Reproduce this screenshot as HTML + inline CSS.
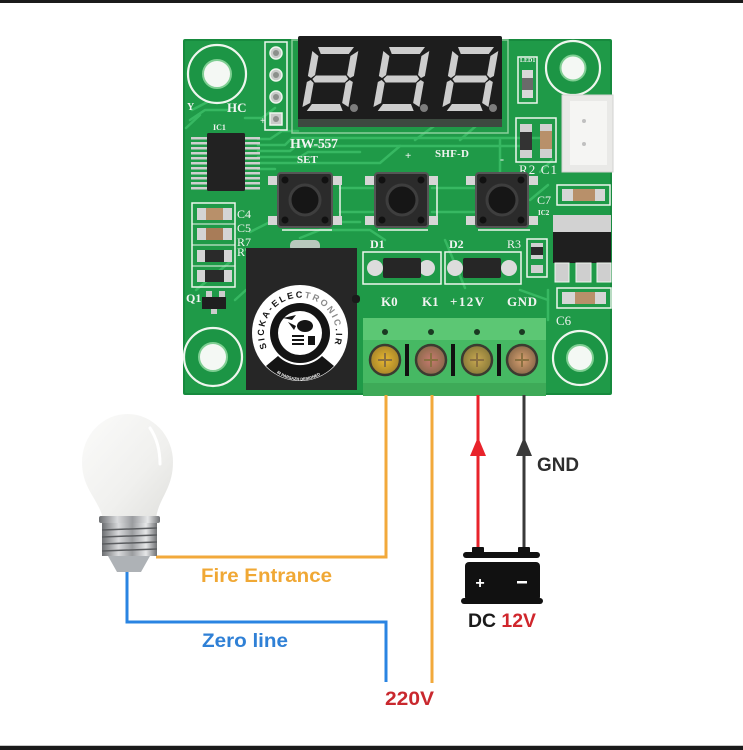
<!DOCTYPE html>
<html><head><meta charset="utf-8">
<style>
html,body{margin:0;padding:0;background:#fff;}
svg{display:block;}
</style></head>
<body>
<svg width="743" height="750" viewBox="0 0 743 750" xmlns="http://www.w3.org/2000/svg">
<defs>
  <linearGradient id="glass" x1="0" y1="0" x2="1" y2="1">
    <stop offset="0" stop-color="#fbfbfa"/>
    <stop offset="0.6" stop-color="#f0f0ee"/>
    <stop offset="1" stop-color="#e0e0dd"/>
  </linearGradient>
  <linearGradient id="metal" x1="0" y1="0" x2="1" y2="0">
    <stop offset="0" stop-color="#6d6f72"/>
    <stop offset="0.3" stop-color="#d9dadc"/>
    <stop offset="0.55" stop-color="#9a9c9f"/>
    <stop offset="0.8" stop-color="#e6e7e8"/>
    <stop offset="1" stop-color="#707275"/>
  </linearGradient>
  <radialGradient id="screw1"><stop offset="0" stop-color="#e8b830"/><stop offset="1" stop-color="#a8862a"/></radialGradient>
  <radialGradient id="screw2"><stop offset="0" stop-color="#c87a70"/><stop offset="1" stop-color="#8a6a4a"/></radialGradient>
  <radialGradient id="screw3"><stop offset="0" stop-color="#c8a850"/><stop offset="1" stop-color="#8a7a3a"/></radialGradient>
  <radialGradient id="screw4"><stop offset="0" stop-color="#d8a070"/><stop offset="1" stop-color="#8a6a4a"/></radialGradient>
  <path id="logoArc" d="M267,348 A36,36 0 1 1 333,348"/>
  <path id="logoArcB" d="M272,369 A40,40 0 0 0 328,369"/>
</defs>

<!-- frame bars -->
<rect x="0" y="0" width="743" height="3" fill="#1b1b1b"/>
<rect x="0" y="745" width="743" height="1" fill="#c8c8c8"/>
<rect x="0" y="746" width="743" height="4" fill="#1b1b1b"/>

<!-- ================= PCB ================= -->
<rect x="183" y="39" width="429" height="356" rx="2" fill="#1f9a48"/>
<rect x="184" y="40" width="427" height="354" rx="2" fill="none" stroke="#178a3e" stroke-width="2"/>

<!-- traces -->
<g fill="none" stroke="#37b862" stroke-width="2.5" stroke-linecap="round" stroke-linejoin="round">
  <path d="M258,139 H270 L282,131 H298"/>
  <path d="M258,145 H285 L292,138 H540"/>
  <path d="M258,151 H290 L296,146 H520"/>
  <path d="M258,157 H300 L308,152 H360"/>
  <path d="M258,163 H380 L400,146"/>
  <path d="M258,169 H275"/>
  <path d="M190,120 L205,110 H228"/>
  <path d="M186,128 L200,115"/>
  <path d="M192,110 L215,98"/>
  <path d="M245,118 H262 L275,108"/>
  <path d="M415,140 L445,118"/>
  <path d="M460,140 L485,118"/>
  <path d="M500,140 V175"/>
  <path d="M340,188 H375"/>
  <path d="M432,188 H476"/>
  <path d="M340,212 H375"/>
  <path d="M432,212 H476"/>
  <path d="M250,232 L270,222 H360"/>
  <path d="M300,238 L320,230 H370 L385,240"/>
  <path d="M530,200 L548,185"/>
  <path d="M540,172 L552,160"/>
  <path d="M196,290 L230,262"/>
  <path d="M235,300 L246,290"/>
  <path d="M445,240 L465,288"/>
  <path d="M520,290 L548,300"/>
  <path d="M548,320 V290"/>
</g>

<!-- mounting holes -->
<g stroke="#eef6ee" stroke-width="2.2">
  <circle cx="217" cy="74" r="29" fill="#1c9545"/>
  <circle cx="573" cy="68" r="27" fill="#1c9545"/>
  <circle cx="213" cy="357" r="29" fill="#1c9545"/>
  <circle cx="580" cy="358" r="27" fill="#1c9545"/>
</g>
<g fill="#f4f8f4" stroke="#7fcf93" stroke-width="2">
  <circle cx="217" cy="74" r="14"/>
  <circle cx="573" cy="68" r="12.5"/>
  <circle cx="213" cy="357" r="14"/>
  <circle cx="580" cy="358" r="13"/>
</g>

<!-- silkscreen -->
<g font-family="'Liberation Serif', serif" font-weight="bold" fill="#f2f4f2">
  <text x="227" y="112" font-size="13">HC</text>
  <text x="213" y="130" font-size="8">IC1</text>
  <text x="260" y="124" font-size="10">+</text>
  <text x="290" y="148" font-size="14" textLength="48">HW-557</text>
  <text x="297" y="163" font-size="11">SET</text>
  <text x="405" y="159" font-size="11">+</text>
  <text x="435" y="157" font-size="11" textLength="34">SHF-D</text>
  <text x="500" y="163" font-size="12">-</text>
  <text x="519" y="174" font-size="13" font-weight="normal" textLength="38">R2 C1</text>
  <text x="537" y="204" font-size="12" font-weight="normal">C7</text>
  <text x="538" y="215" font-size="7">IC2</text>
  <text x="237" y="218" font-size="12" font-weight="normal">C4</text>
  <text x="237" y="232" font-size="12" font-weight="normal">C5</text>
  <text x="237" y="246" font-size="12" font-weight="normal">R7</text>
  <text x="237" y="256" font-size="12" font-weight="normal">R'</text>
  <text x="186" y="302" font-size="12">Q1</text>
  <text x="370" y="248" font-size="12">D1</text>
  <text x="449" y="248" font-size="12">D2</text>
  <text x="507" y="248" font-size="12" font-weight="normal">R3</text>
  <text x="381" y="306" font-size="13">K0</text>
  <text x="422" y="306" font-size="13">K1</text>
  <text x="450" y="306" font-size="13" textLength="34">+12V</text>
  <text x="507" y="306" font-size="13" textLength="30">GND</text>
  <text x="556" y="325" font-size="13" font-weight="normal">C6</text>
  <text x="520" y="62" font-size="6">LED1</text>
  <text x="187" y="110" font-size="10">Y</text>
</g>

<!-- header pins -->
<rect x="265" y="42" width="22" height="88" fill="none" stroke="#eef6ee" stroke-width="1.5"/>
<g fill="#c9cbc9" stroke="#eef6ee" stroke-width="1.5">
  <circle cx="276" cy="53" r="6"/>
  <circle cx="276" cy="75" r="6"/>
  <circle cx="276" cy="97" r="6"/>
  <rect x="270" y="113" width="12" height="12"/>
</g>
<g fill="#8c908c">
  <circle cx="276" cy="53" r="3"/><circle cx="276" cy="75" r="3"/><circle cx="276" cy="97" r="3"/><circle cx="276" cy="119" r="3"/>
</g>

<!-- display -->
<rect x="292" y="40" width="216" height="93" fill="none" stroke="#8ccf9c" stroke-width="1.5"/>
<rect x="298" y="36" width="204" height="91" rx="2" fill="#1d1d1d"/>
<rect x="298" y="119" width="204" height="8" fill="#3d4a40"/>
<g fill="#cdcdcd">
  <g transform="translate(313,47) skewX(-10)">
    <polygon points="5,0 41,0 37,7 9,7"/><polygon points="9,57 37,57 41,64 5,64"/>
    <polygon points="8,28.5 38,28.5 41,32 38,35.5 8,35.5 5,32"/>
    <polygon points="0,4 7,9 7,28 3.5,31 0,29"/><polygon points="46,4 46,29 42.5,31 39,28 39,9"/>
    <polygon points="0,35 3.5,33 7,36 7,56 0,60"/><polygon points="46,35 46,60 39,56 39,36 42.5,33"/>
  </g>
  <g transform="translate(384,47) skewX(-10)">
    <polygon points="5,0 41,0 37,7 9,7"/><polygon points="9,57 37,57 41,64 5,64"/>
    <polygon points="8,28.5 38,28.5 41,32 38,35.5 8,35.5 5,32"/>
    <polygon points="0,4 7,9 7,28 3.5,31 0,29"/><polygon points="46,4 46,29 42.5,31 39,28 39,9"/>
    <polygon points="0,35 3.5,33 7,36 7,56 0,60"/><polygon points="46,35 46,60 39,56 39,36 42.5,33"/>
  </g>
  <g transform="translate(453,47) skewX(-10)">
    <polygon points="5,0 41,0 37,7 9,7"/><polygon points="9,57 37,57 41,64 5,64"/>
    <polygon points="8,28.5 38,28.5 41,32 38,35.5 8,35.5 5,32"/>
    <polygon points="0,4 7,9 7,28 3.5,31 0,29"/><polygon points="46,4 46,29 42.5,31 39,28 39,9"/>
    <polygon points="0,35 3.5,33 7,36 7,56 0,60"/><polygon points="46,35 46,60 39,56 39,36 42.5,33"/>
  </g>
</g>
<g fill="#7d7d7d">
  <circle cx="354" cy="108" r="4"/><circle cx="424" cy="108" r="4"/><circle cx="493" cy="108" r="4"/>
</g>

<!-- LED1 -->
<rect x="518" y="57" width="19" height="46" fill="none" stroke="#eef6ee" stroke-width="1.5"/>
<rect x="522" y="70" width="11" height="28" fill="#d8d8d8"/>
<rect x="522" y="78" width="11" height="12" fill="#6a6a6a"/>

<!-- R2 C1 -->
<rect x="516" y="118" width="40" height="44" fill="none" stroke="#eef6ee" stroke-width="1.5"/>
<rect x="520" y="124" width="12" height="34" fill="#d0d0d0"/>
<rect x="520" y="132" width="12" height="18" fill="#333"/>
<rect x="540" y="124" width="12" height="34" fill="#d0d0d0"/>
<rect x="540" y="131" width="12" height="18" fill="#b8906a"/>

<!-- connector -->
<rect x="562" y="95" width="51" height="77" fill="#e9e9e7" stroke="#d2d2d0" stroke-width="1"/>
<rect x="570" y="101" width="37" height="64" fill="#f5f5f3"/>
<circle cx="584" cy="121" r="2" fill="#c0c0c0"/>
<circle cx="584" cy="144" r="2" fill="#c0c0c0"/>

<!-- IC1 -->
<g fill="#cfcfcf">
  <rect x="191" y="137" width="16" height="2.5"/><rect x="191" y="142" width="16" height="2.5"/><rect x="191" y="147" width="16" height="2.5"/><rect x="191" y="152" width="16" height="2.5"/><rect x="191" y="157" width="16" height="2.5"/><rect x="191" y="162" width="16" height="2.5"/><rect x="191" y="167" width="16" height="2.5"/><rect x="191" y="172" width="16" height="2.5"/><rect x="191" y="177" width="16" height="2.5"/><rect x="191" y="182" width="16" height="2.5"/><rect x="191" y="187" width="16" height="2.5"/>
  <rect x="245" y="137" width="15" height="2.5"/><rect x="245" y="142" width="15" height="2.5"/><rect x="245" y="147" width="15" height="2.5"/><rect x="245" y="152" width="15" height="2.5"/><rect x="245" y="157" width="15" height="2.5"/><rect x="245" y="162" width="15" height="2.5"/><rect x="245" y="167" width="15" height="2.5"/><rect x="245" y="172" width="15" height="2.5"/><rect x="245" y="177" width="15" height="2.5"/><rect x="245" y="182" width="15" height="2.5"/><rect x="245" y="187" width="15" height="2.5"/>
</g>
<rect x="207" y="133" width="38" height="58" rx="1.5" fill="#222"/>

<!-- left passives -->
<rect x="192" y="203" width="43" height="84" fill="none" stroke="#eef6ee" stroke-width="1.5"/>
<g>
  <rect x="197" y="208" width="35" height="12" fill="#d4d4d4"/><rect x="206" y="208" width="17" height="12" fill="#b8906a"/>
  <rect x="197" y="228" width="35" height="12" fill="#d4d4d4"/><rect x="206" y="228" width="17" height="12" fill="#a87c58"/>
  <rect x="197" y="250" width="35" height="12" fill="#d4d4d4"/><rect x="205" y="250" width="19" height="12" fill="#2a2a2a"/>
  <rect x="197" y="270" width="35" height="12" fill="#d4d4d4"/><rect x="205" y="270" width="19" height="12" fill="#2a2a2a"/>
</g>
<line x1="192" y1="224" x2="235" y2="224" stroke="#eef6ee" stroke-width="1"/>
<line x1="192" y1="245" x2="235" y2="245" stroke="#eef6ee" stroke-width="1"/>
<line x1="192" y1="266" x2="235" y2="266" stroke="#eef6ee" stroke-width="1"/>
<!-- Q1 -->
<rect x="206" y="291" width="6" height="6" fill="#ccc"/><rect x="219" y="291" width="6" height="6" fill="#ccc"/>
<rect x="202" y="297" width="24" height="12" fill="#1f1f1f"/>
<rect x="211" y="309" width="6" height="5" fill="#ccc"/>

<!-- buttons -->
<g>
  <g fill="#d6d6d6">
    <rect x="268" y="176" width="14" height="9"/><rect x="328" y="176" width="14" height="9"/>
    <rect x="268" y="216" width="14" height="9"/><rect x="328" y="216" width="14" height="9"/>
    <rect x="365" y="176" width="14" height="9"/><rect x="424" y="176" width="14" height="9"/>
    <rect x="365" y="216" width="14" height="9"/><rect x="424" y="216" width="14" height="9"/>
    <rect x="466" y="176" width="14" height="9"/><rect x="524" y="176" width="14" height="9"/>
    <rect x="466" y="216" width="14" height="9"/><rect x="524" y="216" width="14" height="9"/>
  </g>
  <g fill="#2b2b2b" stroke="#555" stroke-width="2">
    <rect x="278" y="173" width="54" height="54" rx="3"/>
    <rect x="375" y="173" width="53" height="54" rx="3"/>
    <rect x="476" y="173" width="52" height="54" rx="3"/>
  </g>
  <g fill="#111">
    <circle cx="285" cy="180" r="3.5"/><circle cx="325" cy="180" r="3.5"/><circle cx="285" cy="220" r="3.5"/><circle cx="325" cy="220" r="3.5"/>
    <circle cx="382" cy="180" r="3.5"/><circle cx="421" cy="180" r="3.5"/><circle cx="382" cy="220" r="3.5"/><circle cx="421" cy="220" r="3.5"/>
    <circle cx="483" cy="180" r="3.5"/><circle cx="521" cy="180" r="3.5"/><circle cx="483" cy="220" r="3.5"/><circle cx="521" cy="220" r="3.5"/>
  </g>
  <g fill="#161616" stroke="#3e3e3e" stroke-width="3">
    <circle cx="305" cy="200" r="15"/><circle cx="402" cy="200" r="15"/><circle cx="502" cy="200" r="15"/>
  </g>
  <g stroke="#eef6ee" stroke-width="1.5">
    <line x1="282" y1="230" x2="332" y2="230"/><line x1="378" y1="230" x2="428" y2="230"/><line x1="478" y1="230" x2="530" y2="230"/>
    <line x1="340" y1="185" x2="340" y2="216"/><line x1="437" y1="185" x2="437" y2="216"/>
  </g>
</g>

<!-- C7, IC2, C6 -->
<rect x="557" y="185" width="53" height="20" fill="none" stroke="#eef6ee" stroke-width="1.5"/>
<rect x="562" y="189" width="43" height="12" fill="#d6d6d6"/><rect x="573" y="189" width="22" height="12" fill="#b8906a"/>
<rect x="553" y="215" width="58" height="17" fill="#d2d2d2"/>
<rect x="553" y="232" width="58" height="31" fill="#1f1f1f"/>
<g fill="#cfcfcf" stroke="#eef6ee" stroke-width="1">
  <rect x="555" y="263" width="14" height="19"/><rect x="576" y="263" width="15" height="19"/><rect x="597" y="263" width="14" height="19"/>
</g>
<rect x="557" y="288" width="54" height="20" fill="none" stroke="#eef6ee" stroke-width="1.5"/>
<rect x="562" y="292" width="44" height="12" fill="#d6d6d6"/><rect x="575" y="292" width="20" height="12" fill="#b8906a"/>

<!-- R3 -->
<rect x="527" y="239" width="20" height="38" fill="none" stroke="#eef6ee" stroke-width="1.5"/>
<rect x="531" y="243" width="12" height="16" fill="#d0d0d0"/><rect x="531" y="247" width="12" height="8" fill="#2a2a2a"/>
<rect x="531" y="265" width="12" height="8" fill="#d0d0d0"/>

<!-- D1 D2 -->
<rect x="363" y="252" width="78" height="32" fill="none" stroke="#eef6ee" stroke-width="1.5"/>
<rect x="445" y="252" width="76" height="32" fill="none" stroke="#eef6ee" stroke-width="1.5"/>
<g fill="#dcdcdc">
  <circle cx="375" cy="268" r="8"/><circle cx="427" cy="268" r="8"/>
  <circle cx="455" cy="268" r="8"/><circle cx="509" cy="268" r="8"/>
</g>
<rect x="383" y="258" width="38" height="20" rx="2" fill="#262626"/>
<rect x="463" y="258" width="38" height="20" rx="2" fill="#262626"/>

<!-- relay -->
<rect x="290" y="240" width="30" height="12" rx="5" fill="#b9c9bd"/>
<rect x="246" y="248" width="111" height="142" fill="#262626"/>
<rect x="352" y="295" width="8" height="8" rx="3" fill="#1a1a1a"/>

<!-- logo -->
<circle cx="300" cy="333" r="48" fill="#ffffff"/>
<path d="M334,366 A47,47 0 0 1 266,366 L278,356 A31,31 0 0 0 322,356 Z" fill="#141414"/>
<circle cx="300" cy="333" r="30" fill="#141414"/>
<circle cx="300" cy="333" r="22" fill="#ffffff"/>
<g fill="#141414">
  <ellipse cx="305" cy="326" rx="8" ry="6"/>
  <path d="M296,326 L288,322 L294,330 Z"/>
  <rect x="292" y="335" width="12" height="2"/>
  <rect x="292" y="339" width="12" height="2"/>
  <rect x="292" y="343" width="12" height="2"/>
  <rect x="308" y="336" width="7" height="9"/>
  <path d="M283,318 L296,315 L292,320 Z"/>
</g>
<text font-family="'Liberation Sans', sans-serif" font-weight="bold" font-size="9" fill="#141414">
  <textPath href="#logoArc" startOffset="0" textLength="138" lengthAdjust="spacing">SICKA-ELEC<tspan fill="#8a8a8a">TRONIC</tspan>.IR</textPath>
</text>
<text font-family="'Liberation Sans', sans-serif" font-weight="bold" font-size="4" fill="#ffffff">
  <textPath href="#logoArcB" startOffset="6">IR PARSAZH DESIGNED</textPath>
</text>

<!-- terminal block -->
<rect x="363" y="318" width="183" height="78" fill="#46b963"/>
<rect x="363" y="318" width="183" height="22" fill="#5cc774"/>
<rect x="363" y="383" width="183" height="13" fill="#3eaa58"/>
<g fill="#1a3a22">
  <circle cx="385" cy="332" r="3"/><circle cx="431" cy="332" r="3"/><circle cx="477" cy="332" r="3"/><circle cx="522" cy="332" r="3"/>
</g>
<g fill="#111">
  <rect x="405" y="344" width="4" height="32"/><rect x="451" y="344" width="4" height="32"/><rect x="497" y="344" width="4" height="32"/>
</g>
<g stroke="#3b3b30" stroke-width="2.5">
  <circle cx="385" cy="360" r="15" fill="url(#screw1)"/>
  <circle cx="431" cy="360" r="15" fill="url(#screw2)"/>
  <circle cx="477" cy="360" r="15" fill="url(#screw3)"/>
  <circle cx="522" cy="360" r="15" fill="url(#screw4)"/>
</g>
<g stroke="#8a7040" stroke-width="2" fill="none">
  <path d="M378,360 H392 M385,353 V367"/>
  <path d="M424,360 H438 M431,353 V367"/>
  <path d="M470,360 H484 M477,353 V367"/>
  <path d="M515,360 H529 M522,353 V367"/>
</g>

<!-- ================= wires ================= -->
<g fill="none" stroke-width="3" stroke-linejoin="miter">
  <path d="M386,395 V557 H156" stroke="#f2a93b"/>
  <path d="M432,395 V683" stroke="#f2a93b"/>
  <path d="M127,572 V622 H386 V682" stroke="#2a84e2"/>
  <path d="M478,395 V553" stroke="#e8232b"/>
  <path d="M524,395 V553" stroke="#3a3a3a"/>
</g>
<polygon points="478,437 470,456 486,456" fill="#e8232b"/>
<polygon points="524,437 516,456 532,456" fill="#3a3a3a"/>

<!-- battery -->
<rect x="472" y="547" width="12" height="7" rx="1" fill="#111"/>
<rect x="518" y="547" width="12" height="7" rx="1" fill="#111"/>
<rect x="463" y="552" width="77" height="6" rx="3" fill="#111"/>
<rect x="465" y="562" width="75" height="39" rx="4" fill="#111"/>
<rect x="461" y="598" width="82" height="6" rx="3" fill="#111"/>
<text x="480" y="588" font-family="'Liberation Sans', sans-serif" font-weight="bold" font-size="16" fill="#fff" text-anchor="middle">+</text>
<rect x="517" y="581" width="10" height="2.5" fill="#fff"/>

<!-- bulb -->
<path d="M103,520 C100,500 82,490 82,462 A45.5,48 0 1 1 173,462 C173,490 157,500 156,520 Z" fill="url(#glass)"/>
<path d="M150,428 C158,440 160,452 160,464" fill="none" stroke="#ffffff" stroke-width="3" stroke-linecap="round"/>
<rect x="99" y="516" width="61" height="7" rx="2" fill="url(#metal)"/>
<rect x="102" y="523" width="55" height="33" fill="url(#metal)"/>
<g stroke="#5b5d60" stroke-width="1.5">
  <line x1="102" y1="530" x2="157" y2="528"/>
  <line x1="102" y1="537" x2="157" y2="535"/>
  <line x1="102" y1="544" x2="157" y2="542"/>
  <line x1="102" y1="551" x2="157" y2="549"/>
</g>
<path d="M108,556 H150 L141,572 H117 Z" fill="#aeb2b6"/>

<!-- ================= labels ================= -->
<g font-family="'Liberation Sans', sans-serif" font-weight="bold">
  <text x="537" y="471" font-size="19" fill="#2e2e2e" textLength="42" lengthAdjust="spacingAndGlyphs">GND</text>
  <text x="468" y="627" font-size="19" fill="#1a1a1a" textLength="68" lengthAdjust="spacingAndGlyphs">DC <tspan fill="#d0262c">12V</tspan></text>
  <text x="201" y="582" font-size="19" fill="#f0a835" textLength="131" lengthAdjust="spacingAndGlyphs">Fire Entrance</text>
  <text x="202" y="647" font-size="19" fill="#2f80d6" textLength="86" lengthAdjust="spacingAndGlyphs">Zero line</text>
  <text x="385" y="705" font-size="19" fill="#c9282e" textLength="49" lengthAdjust="spacingAndGlyphs">220V</text>
</g>
</svg>
</body></html>
